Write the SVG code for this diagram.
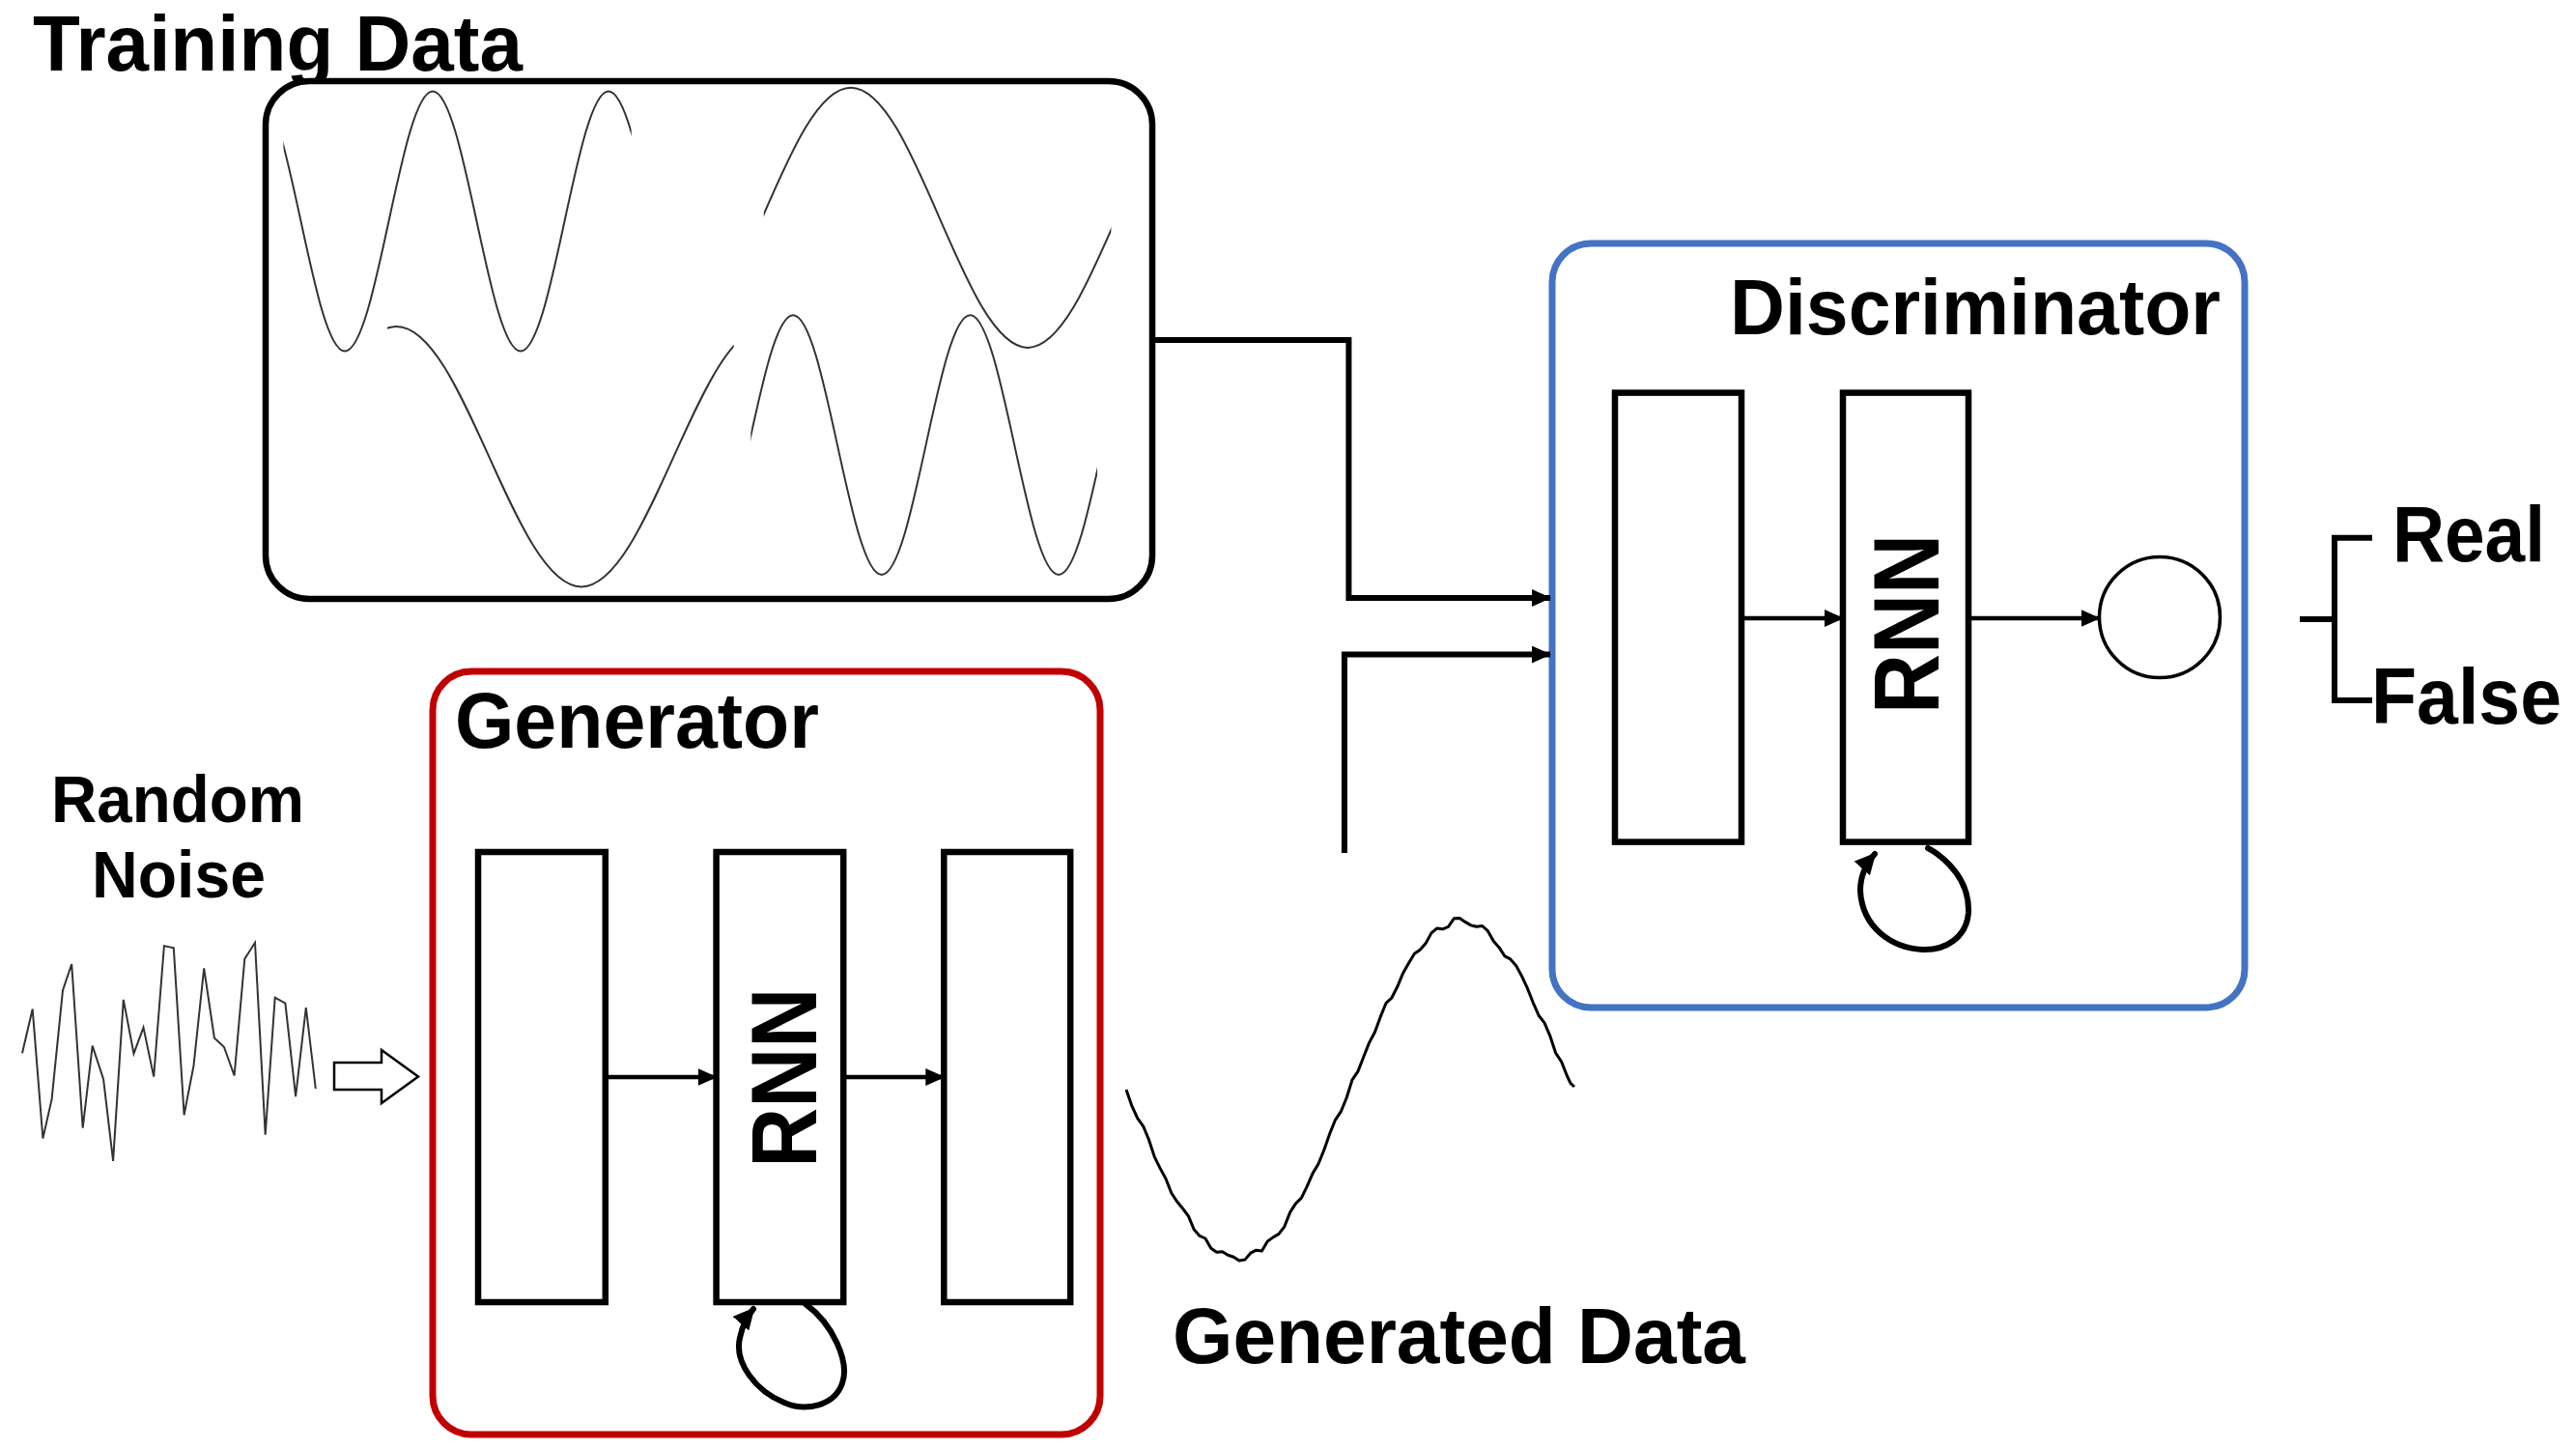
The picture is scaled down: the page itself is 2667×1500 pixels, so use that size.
<svg xmlns="http://www.w3.org/2000/svg" width="2667" height="1500" viewBox="0 0 2667 1500">
<style>
.lbl{font-family:"Liberation Sans",Arial,sans-serif;font-weight:bold;fill:#000;}
.big{font-size:82px;}
.mid{font-size:68px;}
.rnn{font-size:96px;}
.wave{fill:none;stroke:#333;stroke-width:2;}
.blk{fill:#fff;stroke:#000;stroke-width:6.5;}
.conn{fill:none;stroke:#000;stroke-width:6;}
.thin{fill:none;stroke:#000;stroke-width:4.5;}
.loop{fill:none;stroke:#000;stroke-width:6;stroke-linecap:round;}
</style>
<defs>
<marker id="arr" markerUnits="userSpaceOnUse" markerWidth="20" markerHeight="18" refX="19" refY="9" orient="auto">
<path d="M0,0 L20,9 L0,18 z" fill="#000"/>
</marker>
<marker id="arrL" markerUnits="userSpaceOnUse" markerWidth="22" markerHeight="22" refX="20" refY="11" orient="auto">
<path d="M0,0 L22,11 L0,22 z" fill="#000"/>
</marker>
<clipPath id="c1"><rect x="293.4" y="0" width="360.3" height="1500"/></clipPath>
<clipPath id="c2"><rect x="790.8" y="0" width="359.6" height="1500"/></clipPath>
<clipPath id="c3"><rect x="401" y="0" width="358.7" height="1500"/></clipPath>
<clipPath id="c4"><rect x="777.3" y="0" width="358.7" height="1500"/></clipPath>
</defs>
<rect width="2667" height="1500" fill="#fff"/>

<g id="training-data">
<text class="lbl big" x="34" y="73" textLength="507" lengthAdjust="spacingAndGlyphs">Training Data</text>
<rect x="275" y="84" width="918" height="536" rx="45" fill="#fff" stroke="#000" stroke-width="6.5"/>
<path class="wave" clip-path="url(#c1)" d="M266,94.5 C299.07,94.5 323.93,363.6 357,363.6 S414.93,94.5 448,94.5 S505.93,363.6 539,363.6 S596.93,94.5 630,94.5 S687.93,363.6 721,363.6"/>
<path class="wave" clip-path="url(#c2)" d="M697.6,359.9 C764.2,359.9 814.3,90.8 880.9,90.8 S997.6,359.9 1064.2,359.9 S1180.9,90.8 1247.5,90.8"/>
<path class="wave" clip-path="url(#c3)" d="M219.3,607.4 C288.8,607.4 341.1,337.9 410.6,337.9 S532.4,607.4 601.9,607.4 S723.7,337.9 793.2,337.9"/>
<path class="wave" clip-path="url(#c4)" d="M729.4,594.9 C762.7,594.9 787.8,326.3 821.1,326.3 S879.5,594.9 912.8,594.9 S971.1,326.3 1004.4,326.3 S1062.8,594.9 1096.1,594.9 S1154.5,326.3 1187.8,326.3"/>
</g>

<g id="random-noise">
<text class="lbl mid" x="184" y="851" text-anchor="middle" textLength="262" lengthAdjust="spacingAndGlyphs">Random</text>
<text class="lbl mid" x="185" y="929" text-anchor="middle" textLength="180" lengthAdjust="spacingAndGlyphs">Noise</text>
<polyline class="wave" points="23,1090.2 33.7,1044.6 44.4,1178.5 53.6,1137.9 65,1025.1 74.2,998 85.7,1167.7 95.7,1082.6 107.1,1117.3 117.1,1201.9 127.8,1034.9 138.5,1090.7 148.5,1063.6 159.2,1114.6 169.9,979.1 179.8,981.2 190.6,1154.2 200.5,1103.2 211.2,1002.4 221.9,1074.5 231.9,1083.7 242.6,1113.5 253.3,992.6 264,975.8 274.7,1174.7 284.7,1032.7 295.4,1038.7 306.1,1135.2 316.8,1043 326.8,1127"/>
<polygon points="346,1100 395,1100 395,1087 433,1114.6 395,1142 395,1128 346,1128" fill="#fff" stroke="#000" stroke-width="2.5"/>
</g>

<g id="generator">
<rect x="448" y="695" width="691" height="790" rx="40" fill="none" stroke="#C00000" stroke-width="7"/>
<text class="lbl big" x="471" y="774" textLength="377" lengthAdjust="spacingAndGlyphs">Generator</text>
<rect class="blk" x="495" y="882" width="131.8" height="466"/>
<rect class="blk" x="741.6" y="882" width="131.6" height="466"/>
<rect class="blk" x="977.3" y="882" width="130.9" height="466"/>
<text class="lbl rnn" transform="translate(811.2,1115.7) rotate(-90)" x="0" y="34" text-anchor="middle" textLength="186" lengthAdjust="spacingAndGlyphs">RNN</text>
</g>

<g id="generated-data">
<polyline fill="none" stroke="#000" stroke-width="3" stroke-linejoin="round" points="1166,1128 1171.9,1144.9 1177.7,1157.7 1183.6,1165.8 1189.4,1179.8 1195.3,1197.6 1201.1,1209.4 1207,1220.2 1212.8,1235 1218.7,1244 1224.5,1251 1230.4,1258.9 1236.2,1272.8 1242.1,1279.4 1247.9,1282 1253.8,1292.2 1259.6,1296.3 1265.5,1295.8 1271.3,1299.3 1277.2,1301.2 1283,1305 1288.9,1304.1 1294.7,1297.2 1300.6,1294.2 1306.4,1295.1 1312.3,1285 1318.1,1280.9 1324,1277.4 1329.8,1269.8 1335.7,1254.9 1341.5,1245.9 1347.4,1240.1 1353.2,1228.2 1359.1,1214.6 1364.9,1205 1370.8,1190.5 1376.6,1173.9 1382.5,1159.3 1388.3,1150.7 1394.2,1136.3 1400,1117.9 1405.9,1109.1 1411.7,1094.2 1417.6,1079.4 1423.4,1068.5 1429.3,1052.4 1435.1,1038.3 1441,1032.8 1446.8,1021.3 1452.7,1007.2 1458.5,997.1 1464.4,987.2 1470.2,983.2 1476.1,976.6 1481.9,965.9 1487.8,960.9 1493.6,961.8 1499.5,959.3 1505.3,950.8 1511.2,950.6 1517,954.4 1522.9,957.9 1528.7,959.3 1534.6,958.5 1540.4,963.7 1546.3,974.3 1552.1,980.9 1558,989.9 1563.8,992.9 1569.7,999.7 1575.5,1010.4 1581.4,1023.1 1587.2,1037.8 1593.1,1051.2 1598.9,1058.6 1604.8,1072.3 1610.6,1090 1616.5,1098.8 1622.3,1113.5 1626,1121.3 1630,1125"/>
<text class="lbl big" x="1214" y="1411" textLength="593" lengthAdjust="spacingAndGlyphs">Generated Data</text>
</g>

<g id="discriminator">
<rect x="1607" y="252" width="717" height="791" rx="40" fill="none" stroke="#4472C4" stroke-width="7"/>
<text class="lbl big" x="1791" y="346" textLength="508" lengthAdjust="spacingAndGlyphs">Discriminator</text>
<rect class="blk" x="1672" y="406.6" width="131" height="465"/>
<rect class="blk" x="1908" y="406.6" width="130" height="465"/>
<text class="lbl rnn" transform="translate(1973,646) rotate(-90)" x="0" y="34" text-anchor="middle" textLength="186" lengthAdjust="spacingAndGlyphs">RNN</text>
<circle cx="2236" cy="639" r="62.5" fill="#fff" stroke="#000" stroke-width="3.5"/>
</g>

<g id="output">
<path class="conn" d="M2381,641 L2417,641 M2456,556.7 L2417,556.7 L2417,725 L2456,725"/>
<text class="lbl big" x="2477" y="581" textLength="158" lengthAdjust="spacingAndGlyphs">Real</text>
<text class="lbl big" x="2455" y="749" textLength="197" lengthAdjust="spacingAndGlyphs">False</text>
</g>

<g id="connectors">
<polyline class="conn" points="1193,352 1396.4,352 1396.4,619 1605,619" marker-end="url(#arr)"/>
<polyline class="conn" points="1391.9,883 1391.9,677.6 1605,677.6" marker-end="url(#arr)"/>
<line class="thin" x1="626.8" y1="1115" x2="741.6" y2="1115" marker-end="url(#arr)"/>
<line class="thin" x1="873.2" y1="1115" x2="977.3" y2="1115" marker-end="url(#arr)"/>
<line class="thin" x1="1803" y1="640" x2="1908" y2="640" marker-end="url(#arr)"/>
<line class="thin" x1="2038" y1="640" x2="2173.5" y2="640" marker-end="url(#arr)"/>
<path class="loop" d="M834,1350 C862,1370 880,1410 872,1432 C864,1455 835,1462 812,1452 C782,1440 760,1410 766,1385 C769,1370 774,1362 780,1355" marker-end="url(#arrL)"/>
<path class="loop" d="M1996,878 C1996,878 2040,900 2038,945 C2036,970 2015,984 1990,983 C1958,981 1928,960 1926,922 C1926,905 1933,893 1941,884" marker-end="url(#arrL)"/>
</g>
</svg>
